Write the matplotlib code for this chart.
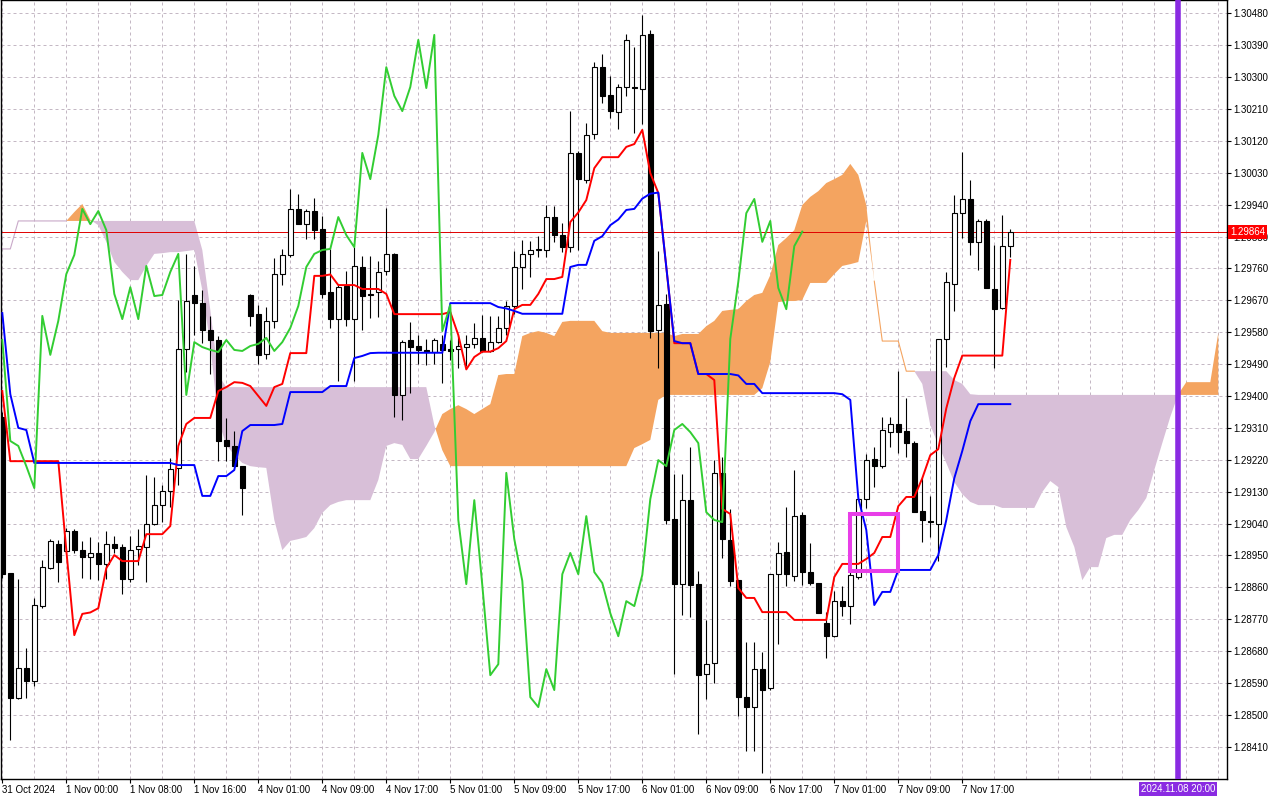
import matplotlib
matplotlib.use('Agg')
import matplotlib.pyplot as plt
from matplotlib.patches import Rectangle
import numpy as np

plt.rcParams['font.family'] = ['Liberation Sans', 'DejaVu Sans']

# H1 candles, 31 Oct 16:00 -> 7 Nov 23:00
opens = [
    1.29341, 1.28900, 1.28547, 1.28632, 1.28595, 1.28807, 1.28914, 1.28982,
    1.28962, 1.29019, 1.28965, 1.28945, 1.28957, 1.28926, 1.28982, 1.28974,
    1.28883, 1.28968, 1.28974, 1.29039, 1.29092, 1.29132, 1.29197, 1.29532,
    1.29685, 1.29662, 1.29586, 1.29558, 1.29276, 1.29259, 1.29202, 1.29685,
    1.29631, 1.29518, 1.29612, 1.29744, 1.29798, 1.29928, 1.29885, 1.29922,
    1.29871, 1.29693, 1.29617, 1.29710, 1.29617, 1.29764, 1.29688, 1.29693,
    1.29753, 1.29801, 1.29403, 1.29558, 1.29541, 1.29530, 1.29524, 1.29547,
    1.29532, 1.29532, 1.29538, 1.29547, 1.29564, 1.29527, 1.29552, 1.29592,
    1.29654, 1.29764, 1.29801, 1.29812, 1.29812, 1.29905, 1.29854, 1.29820,
    1.30086, 1.30009, 1.30139, 1.30328, 1.30249, 1.30201, 1.30272, 1.30272,
    1.30266, 1.30422, 1.29586, 1.29660, 1.29053, 1.28869, 1.29106, 1.28869,
    1.28615, 1.28646, 1.29183, 1.28993, 1.28880, 1.28550, 1.28522, 1.28629,
    1.28576, 1.28897, 1.28960, 1.28892, 1.29064, 1.28903, 1.28872, 1.28759,
    1.28722, 1.28821, 1.28807, 1.28889, 1.29109, 1.29222, 1.29202, 1.29298,
    1.29321, 1.29301, 1.29267, 1.29075, 1.29047, 1.29039, 1.29561, 1.29716,
    1.29916, 1.29956, 1.29835, 1.29894, 1.29702, 1.29648, 1.29823,
]
highs = [
    1.29355, 1.28900, 1.28883, 1.28689, 1.28830, 1.28937, 1.28996, 1.28993,
    1.29027, 1.29024, 1.28991, 1.29002, 1.28988, 1.29019, 1.29005, 1.28982,
    1.29005, 1.29024, 1.29177, 1.29171, 1.29149, 1.29225, 1.29671, 1.29801,
    1.29767, 1.29699, 1.29626, 1.29569, 1.29338, 1.29301, 1.29202, 1.29688,
    1.29657, 1.29651, 1.29789, 1.29815, 1.29984, 1.29970, 1.29928, 1.29959,
    1.29908, 1.29815, 1.29716, 1.29753, 1.29820, 1.29795, 1.29795, 1.29781,
    1.29930, 1.29803, 1.29558, 1.29609, 1.29572, 1.29561, 1.29564, 1.29572,
    1.29558, 1.29572, 1.29572, 1.29606, 1.29628, 1.29626, 1.29626, 1.29668,
    1.29809, 1.29840, 1.29837, 1.29851, 1.29939, 1.29936, 1.29888, 1.30204,
    1.30091, 1.30170, 1.30343, 1.30365, 1.30303, 1.30280, 1.30422, 1.30385,
    1.30475, 1.30433, 1.29809, 1.29688, 1.29180, 1.29180, 1.29256, 1.28906,
    1.28768, 1.29219, 1.29228, 1.29081, 1.28880, 1.28706, 1.28706, 1.28677,
    1.28897, 1.28988, 1.29087, 1.29191, 1.29072, 1.28985, 1.28872, 1.28790,
    1.28849, 1.28864, 1.28906, 1.29123, 1.29236, 1.29256, 1.29341, 1.29341,
    1.29470, 1.29394, 1.29273, 1.29171, 1.29118, 1.29561, 1.29750, 1.29967,
    1.30089, 1.30009, 1.29899, 1.29899, 1.29826, 1.29911, 1.29871,
]
lows = [
    1.28886, 1.28429, 1.28545, 1.28547, 1.28581, 1.28801, 1.28912, 1.28875,
    1.28957, 1.28957, 1.28886, 1.28883, 1.28880, 1.28883, 1.28957, 1.28841,
    1.28875, 1.28923, 1.28875, 1.29036, 1.29044, 1.29087, 1.29149, 1.29468,
    1.29572, 1.29549, 1.29462, 1.29216, 1.29216, 1.29202, 1.29064, 1.29597,
    1.29490, 1.29504, 1.29592, 1.29713, 1.29792, 1.29885, 1.29843, 1.29843,
    1.29676, 1.29592, 1.29442, 1.29597, 1.29442, 1.29586, 1.29620, 1.29623,
    1.29741, 1.29341, 1.29332, 1.29408, 1.29490, 1.29487, 1.29490, 1.29437,
    1.29501, 1.29479, 1.29485, 1.29535, 1.29524, 1.29524, 1.29549, 1.29572,
    1.29631, 1.29702, 1.29736, 1.29792, 1.29792, 1.29835, 1.29806, 1.29806,
    1.29812, 1.30001, 1.30125, 1.30227, 1.30184, 1.30153, 1.30247, 1.30142,
    1.30168, 1.29564, 1.29479, 1.29039, 1.28615, 1.28782, 1.28776, 1.28446,
    1.28545, 1.28590, 1.28943, 1.28864, 1.28497, 1.28398, 1.28398, 1.28336,
    1.28570, 1.28700, 1.28864, 1.28878, 1.28866, 1.28866, 1.28787, 1.28660,
    1.28720, 1.28779, 1.28756, 1.28883, 1.29084, 1.29143, 1.29197, 1.29256,
    1.29239, 1.29228, 1.29072, 1.28988, 1.29002, 1.28934, 1.29482, 1.29640,
    1.29846, 1.29798, 1.29755, 1.29705, 1.29479, 1.29645, 1.29792,
]
closes = [
    1.28897, 1.28547, 1.28632, 1.28595, 1.28810, 1.28917, 1.28991, 1.28931,
    1.29019, 1.28965, 1.28945, 1.28957, 1.28926, 1.28982, 1.28971, 1.28883,
    1.28965, 1.28976, 1.29039, 1.29092, 1.29132, 1.29194, 1.29532, 1.29668,
    1.29662, 1.29586, 1.29558, 1.29273, 1.29259, 1.29202, 1.29140, 1.29626,
    1.29516, 1.29612, 1.29744, 1.29798, 1.29928, 1.29885, 1.29922, 1.29868,
    1.29688, 1.29617, 1.29707, 1.29617, 1.29767, 1.29682, 1.29685, 1.29750,
    1.29801, 1.29403, 1.29552, 1.29538, 1.29530, 1.29524, 1.29558, 1.29530,
    1.29527, 1.29541, 1.29547, 1.29564, 1.29527, 1.29552, 1.29592, 1.29654,
    1.29764, 1.29801, 1.29812, 1.29815, 1.29905, 1.29854, 1.29820, 1.30086,
    1.30012, 1.30137, 1.30328, 1.30247, 1.30204, 1.30272, 1.30405, 1.30269,
    1.30419, 1.29583, 1.29657, 1.29050, 1.28869, 1.29106, 1.28866, 1.28612,
    1.28643, 1.29183, 1.28996, 1.28878, 1.28550, 1.28522, 1.28629, 1.28570,
    1.28897, 1.28957, 1.28897, 1.29061, 1.28903, 1.28872, 1.28787, 1.28722,
    1.28821, 1.28807, 1.28895, 1.29109, 1.29219, 1.29202, 1.29304, 1.29321,
    1.29298, 1.29267, 1.29072, 1.29050, 1.29044, 1.29561, 1.29722, 1.29916,
    1.29956, 1.29835, 1.29894, 1.29705, 1.29645, 1.29823, 1.29864,
]

# Ichimoku lines
tenkan = [
    1.29414, 1.29216, 1.29216, 1.29216, 1.29216, 1.29216, 1.29216, 1.29216,
    1.28965, 1.28725, 1.28785, 1.28789, 1.28801, 1.28914, 1.28951, 1.28934,
    1.28934, 1.28934, 1.29010, 1.29010, 1.29010, 1.29033, 1.29259, 1.29321,
    1.29338, 1.29338, 1.29338, 1.29414, 1.29425, 1.29439, 1.29437, 1.29428,
    1.29400, 1.29372, 1.29425, 1.29434, 1.29521, 1.29521, 1.29521, 1.29739,
    1.29739, 1.29743, 1.29713, 1.29713, 1.29713, 1.29702, 1.29702, 1.29702,
    1.29688, 1.29631, 1.29631, 1.29631, 1.29631, 1.29631, 1.29631, 1.29631,
    1.29637, 1.29572, 1.29475, 1.29510, 1.29525, 1.29525, 1.29535, 1.29555,
    1.29645, 1.29657, 1.29657, 1.29688, 1.29730, 1.29730, 1.29736, 1.29891,
    1.29918, 1.29953, 1.30043, 1.30074, 1.30074, 1.30074, 1.30103, 1.30111,
    1.30151, 1.30029, 1.29973, 1.29764, 1.29549, 1.29549, 1.29549, 1.29462,
    1.29462, 1.29445, 1.29081, 1.29067, 1.28858, 1.28830, 1.28830, 1.28790,
    1.28790, 1.28790, 1.28790, 1.28768, 1.28768, 1.28768, 1.28768, 1.28768,
    1.28889, 1.28926, 1.28926, 1.28926, 1.28940, 1.28957, 1.29002, 1.29002,
    1.29089, 1.29115, 1.29115, 1.29168, 1.29233, 1.29250, 1.29365, 1.29451,
    1.29514, 1.29514, 1.29514, 1.29514, 1.29514, 1.29514, 1.29784,
]
kijun = [
    1.29634, 1.29405, 1.29310, 1.29304, 1.29211, 1.29211, 1.29211, 1.29211,
    1.29211, 1.29211, 1.29211, 1.29211, 1.29211, 1.29211, 1.29211, 1.29211,
    1.29211, 1.29211, 1.29211, 1.29211, 1.29211, 1.29211, 1.29205, 1.29205,
    1.29205, 1.29118, 1.29118, 1.29174, 1.29174, 1.29191, 1.29301, 1.29318,
    1.29318, 1.29318, 1.29318, 1.29321, 1.29411, 1.29411, 1.29411, 1.29411,
    1.29411, 1.29428, 1.29428, 1.29428, 1.29507, 1.29513, 1.29521, 1.29522,
    1.29522, 1.29522, 1.29522, 1.29522, 1.29522, 1.29522, 1.29522, 1.29522,
    1.29662, 1.29662, 1.29662, 1.29662, 1.29662, 1.29662, 1.29651, 1.29647,
    1.29640, 1.29632, 1.29632, 1.29632, 1.29632, 1.29632, 1.29632, 1.29764,
    1.29770, 1.29770, 1.29838, 1.29851, 1.29882, 1.29898, 1.29925, 1.29928,
    1.29957, 1.29971, 1.29974, 1.29764, 1.29555, 1.29549, 1.29549, 1.29462,
    1.29462, 1.29462, 1.29462, 1.29462, 1.29458, 1.29434, 1.29434, 1.29408,
    1.29408, 1.29408, 1.29408, 1.29408, 1.29408, 1.29408, 1.29408, 1.29408,
    1.29408, 1.29405, 1.29389, 1.29112, 1.29022, 1.28810, 1.28847, 1.28847,
    1.28909, 1.28909, 1.28909, 1.28909, 1.28909, 1.28951, 1.29050, 1.29168,
    1.29245, 1.29329, 1.29377, 1.29377, 1.29377, 1.29377, 1.29377,
]
# cloud, runs 26 bars past the last candle
span_a = [
    1.29815, 1.29815, 1.29894, 1.29894, 1.29894, 1.29894, 1.29894, 1.29894,
    1.29894, 1.29919, 1.29942, 1.29897, 1.29882, 1.29835, 1.29778, 1.29750,
    1.29727, 1.29727, 1.29767, 1.29801, 1.29803, 1.29806, 1.29806, 1.29809,
    1.29812, 1.29699, 1.29544, 1.29332, 1.29262, 1.29233, 1.29211, 1.29202,
    1.29199, 1.29197, 1.29050, 1.28965, 1.28991, 1.28996, 1.29002, 1.29027,
    1.29070, 1.29092, 1.29101, 1.29106, 1.29106, 1.29106, 1.29106, 1.29163,
    1.29259, 1.29267, 1.29262, 1.29222, 1.29222, 1.29259, 1.29298, 1.29349,
    1.29363, 1.29374, 1.29363, 1.29349, 1.29363, 1.29377, 1.29459, 1.29462,
    1.29462, 1.29569, 1.29578, 1.29583, 1.29578, 1.29569, 1.29609, 1.29612,
    1.29612, 1.29612, 1.29612, 1.29583, 1.29578, 1.29578, 1.29578, 1.29578,
    1.29578, 1.29578, 1.29578, 1.29578, 1.29569, 1.29575, 1.29575, 1.29575,
    1.29597, 1.29612, 1.29640, 1.29643, 1.29645, 1.29668, 1.29685, 1.29691,
    1.29741, 1.29826, 1.29846, 1.29868, 1.29939, 1.29962, 1.29978, 1.30001,
    1.30012, 1.30024, 1.30055, 1.30024, 1.29939, 1.29724, 1.29555, 1.29555,
    1.29555, 1.29470, 1.29470, 1.29434, 1.29318, 1.29262, 1.29211, 1.29157,
    1.29123, 1.29101, 1.29092, 1.29092, 1.29092, 1.29084, 1.29084, 1.29084,
    1.29084, 1.29084, 1.29129, 1.29160, 1.29143, 1.29030, 1.28974, 1.28880,
    1.28917, 1.28917, 1.28999, 1.29008, 1.29008, 1.29050, 1.29078, 1.29112,
    1.29191, 1.29267, 1.29341, 1.29405, 1.29439, 1.29439, 1.29439, 1.29439,
    1.29578,
]
span_b = ([1.29815] * 2 + [1.29894] * 23 + [1.29812, 1.29643, 1.29459]
          + [1.29425] * 26 + [1.29318, 1.29247] + [1.29202] * 23
          + [1.29253, 1.29264, 1.29276, 1.29389] + [1.29403] * 12
          + [1.29422, 1.29496, 1.29665, 1.29668, 1.29668, 1.29671,
             1.29719, 1.29719, 1.29719, 1.29744, 1.29767, 1.29772,
             1.29778, 1.29894, 1.29724, 1.29555, 1.29555, 1.29555]
          + [1.29470] * 6 + [1.29445, 1.29434, 1.29405] + [1.29403] * 31)

time_labels = ['31 Oct 2024', '1 Nov 00:00', '1 Nov 08:00', '1 Nov 16:00',
               '4 Nov 01:00', '4 Nov 09:00', '4 Nov 17:00', '5 Nov 01:00',
               '5 Nov 09:00', '5 Nov 17:00', '6 Nov 01:00', '6 Nov 09:00',
               '6 Nov 17:00', '7 Nov 01:00', '7 Nov 09:00', '7 Nov 17:00']
last_price = 1.29864
future_bar = 147
future_label = '2024.11.08 20:00'
# highlighted box (bars, prices)
box_bars = (106, 112)
box_prices = (1.28906, 1.29067)

grid_col = '#c4b8c4'
fs = 7

o = np.array(opens); h = np.array(highs); l = np.array(lows); c = np.array(closes)
x = np.arange(len(c))
a = np.array(span_a); b = np.array(span_b)
xc = np.arange(len(a))

fig = plt.figure(figsize=(12.8, 8), dpi=100)
ax = fig.add_axes([0.0008, 0.02625, 0.9578, 0.9735])
ax.set_xlim(-0.16, 153.09)
ax.set_ylim(1.28319, 1.30517)

# grid
price_ticks = np.round(1.28410 + 0.0009 * np.arange(24), 5)
for p in price_ticks:
    ax.axhline(p, color=grid_col, lw=0.72, ls=(0, (3, 3)), zorder=0)
for gx in range(0, 153, 4):
    ax.axvline(gx, color=grid_col, lw=0.72, ls=(0, (3, 3)), zorder=0)

# cloud, thin line only where both spans sit on each other
ax.fill_between(xc, a, b, where=a >= b, interpolate=True, color='#f4a460', lw=0, zorder=1)
ax.fill_between(xc, a, b, where=a <= b, interpolate=True, color='#d8bfd8', lw=0, zorder=1)
flat = np.isclose(a, b, atol=1e-7)
ax.plot(xc, np.where(flat & (xc < 50), a, np.nan), color='#c9a9c9', lw=0.8, zorder=1.3)
ax.plot(xc, np.where(flat & (xc >= 50), a, np.nan), color='#f4a460', lw=0.8, zorder=1.3)

ax.axhline(last_price, color='#e00000', lw=0.7, zorder=2)

# candles
up = c >= o
lo = np.minimum(o, c)
ht = np.abs(c - o)
ax.vlines(x, l, h, color='black', lw=0.8, zorder=3)
ax.bar(x[up], ht[up], bottom=lo[up], width=0.62, color='white', edgecolor='black', lw=0.8, zorder=3.5)
ax.bar(x[~up], ht[~up], bottom=lo[~up], width=0.62, color='black', edgecolor='black', lw=0.8, zorder=3.5)

# tenkan / kijun / chikou
ax.plot(x, tenkan, color='#ff0000', lw=1.4, zorder=4)
ax.plot(x, kijun, color='#0000ff', lw=1.4, zorder=4.1)
ax.plot(x[:len(c) - 26], c[26:], color='#32cd32', lw=1.4, zorder=4.2)

ax.add_patch(Rectangle((box_bars[0], box_prices[0]), box_bars[1] - box_bars[0],
                       box_prices[1] - box_prices[0], fill=False,
                       ec='#e83ee8', lw=2.9, zorder=6))
ax.axvline(future_bar, color='#8a2be2', lw=4.0, zorder=5)

# axes
ax.yaxis.tick_right()
ax.set_yticks(price_ticks)
ax.set_yticklabels(['%.5f' % p for p in price_ticks])
ax.set_xticks(np.arange(0, 8 * len(time_labels), 8))
ax.set_xticklabels(time_labels, ha='left')
ax.tick_params(axis='both', direction='out', length=3, width=0.8, labelsize=fs, pad=1.5)
for sp in ax.spines.values():
    sp.set_linewidth(1.0)
    sp.set_color('black')

ax.text(1.0025, last_price, '%.5f' % last_price, transform=ax.get_yaxis_transform(),
        ha='left', va='center', fontsize=fs, color='white', clip_on=False, zorder=10,
        bbox=dict(boxstyle='square,pad=0.2', fc='#ff0000', ec='none'))
ax.text(future_bar, -0.0128, future_label, transform=ax.get_xaxis_transform(),
        ha='center', va='center', fontsize=fs, color='white', clip_on=False, zorder=10,
        bbox=dict(boxstyle='square,pad=0.2', fc='#8a2be2', ec='none'))

fig.savefig('out.png', dpi=100)
